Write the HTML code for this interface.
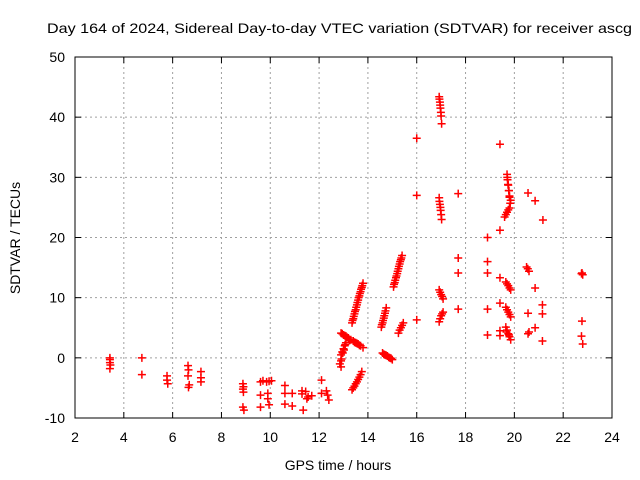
<!DOCTYPE html>
<html><head><meta charset="utf-8"><style>
html,body{margin:0;padding:0;background:#fff;}
svg{display:block;font-family:"Liberation Sans",Arial,sans-serif;}
</style></head><body>
<svg id="chart" width="640" height="480" viewBox="0 0 640 480">
<rect width="640" height="480" fill="#fff"/>
<text x="47" y="33" font-size="14" textLength="585" lengthAdjust="spacingAndGlyphs">Day 164 of 2024, Sidereal Day-to-day VTEC variation (SDTVAR) for receiver ascg</text>
<g id="grid"></g><g id="ticks"></g><g id="marks"></g>
<rect x="75" y="57" width="537" height="361" fill="none" stroke="#000" stroke-width="1"/>
<text x="338" y="470" font-size="14" text-anchor="middle">GPS time / hours</text>
<text x="20" y="238" font-size="14" text-anchor="middle" transform="rotate(-90 20 238)">SDTVAR / TECUs</text>
</svg>
<script>
const xTicks=[2,4,6,8,10,12,14,16,18,20,22,24];
const yTicks=[-10,0,10,20,30,40,50];
const hours=[3.43,3.43,3.45,3.43,3.43,4.74,4.74,5.77,5.77,5.8,6.63,6.65,6.63,6.68,6.65,7.16,7.16,7.16,
8.88,8.9,8.88,8.9,8.88,8.92,9.6,9.7,9.85,9.95,10.05,9.6,9.6,9.9,9.9,9.95,10.6,10.6,10.6,10.9,10.9,11.3,11.45,11.55,11.7,11.35,11.5,11.3,12.1,12.1,
12.3,12.35,12.4,12.9,12.9,12.85,12.9,12.95,13.0,13.05,13.1,12.92,12.97,13.02,13.07,
12.9,13.0,13.1,13.2,13.3,13.4,13.5,13.6,13.7,13.8,12.95,13.05,13.15,13.25,13.45,13.55,13.65,
13.35,13.4,13.45,13.5,13.55,13.6,13.65,13.7,13.75,13.8,13.37,13.42,13.47,13.52,13.57,13.62,13.67,13.72,13.77,
13.35,13.45,13.55,13.65,13.75,13.4,13.5,13.6,13.7,
14.55,14.6,14.65,14.7,14.75,14.57,14.62,14.67,14.72,14.6,14.7,14.8,14.9,15.0,14.65,14.75,14.85,14.95,
15.05,15.1,15.15,15.2,15.25,15.3,15.35,15.4,15.07,15.12,15.17,15.22,15.27,15.32,15.37,15.25,15.35,15.45,15.3,15.4,
16.0,16.0,16.0,16.92,16.95,16.97,17.0,17.02,16.93,16.96,16.99,16.92,16.95,16.98,17.02,16.93,16.97,17.0,16.92,17.0,17.08,16.96,17.04,16.92,17.0,17.08,16.96,17.04,17.7,17.7,17.7,17.7,
19.41,
19.7,19.72,19.75,19.78,19.8,19.85,
19.71,19.74,19.77,19.8,19.83,
19.6,19.7,19.8,19.65,19.75,
19.41,18.9,18.9,18.9,19.41,
19.65,19.75,19.85,19.7,19.8,
18.9,19.41,19.65,19.75,19.85,19.7,19.8,
18.9,19.41,19.41,19.65,19.75,19.85,19.7,19.8,19.68,19.78,
20.56,20.85,21.17,20.5,20.6,20.55,20.85,21.15,21.15,20.56,20.85,20.56,20.6,21.15,
22.77,22.8,22.75,22.77,22.75,22.8];
const tecu=[-0.3,-0.8,-1.2,-1.8,0,0,-2.8,-3,-3.7,-4.3,-1.3,-2,-3,-4.5,-4.9,-2.3,-3.3,-4,
-4.3,-4.8,-5.2,-5.7,-8.2,-8.7,-4,-3.8,-4,-3.9,-3.8,-6.2,-8.2,-5.9,-6.8,-7.8,-4.6,-5.9,-7.7,-5.9,-8,-6,-5.6,-6.5,-6.3,-8.7,-6.8,-5.5,-3.7,-5.9,
-5.5,-6.2,-7,-1.5,-0.5,-1,0.5,1,1.5,2,2.5,-0.2,0.8,1.3,2.2,
4.1,3.8,3.6,3.3,3,2.8,2.5,2.3,2,1.7,4,3.7,3.4,2.9,2.6,2.4,2.1,
5.8,6.5,7.3,8,8.8,9.6,10.3,11,11.7,12.4,6.2,6.9,7.7,8.4,9.2,10,10.7,11.4,12,
-5.3,-4.7,-4,-3.2,-2.3,-5,-4.3,-3.6,-2.8,
5.1,5.8,6.6,7.4,8.3,5.5,6.2,7,7.8,0.8,0.5,0.3,0,-0.3,0.6,0.4,0.1,-0.1,
11.8,12.5,13.3,14,14.8,15.6,16.3,17,12.2,12.9,13.6,14.4,15.2,16,16.6,4.1,5,5.8,4.6,5.4,
36.5,27,6.3,43.4,42.5,41.5,40.2,38.9,43,42,40.8,26.6,25.5,24.5,23,26,25,23.8,11.3,10.5,9.8,10.9,10.2,6,7,7.6,6.5,7.3,27.3,16.6,14.1,8.1,
35.5,
30.5,29.6,28.7,27.8,26.9,26.2,
30,28.8,27.8,26.7,25.7,
23.4,24.2,24.9,23.8,24.6,
21.2,20,16,14.1,13.3,
12.6,12,11.3,12.3,11.6,
8.1,9.1,8.4,7.6,6.8,8,7.2,
3.8,4.5,3.7,5.1,4,3,4.6,3.5,4.3,3.8,
27.4,26.1,22.9,15.1,14.4,14.8,11.6,8.8,7.3,7.4,5,4,4.3,2.8,
14.1,13.8,14,6.1,3.6,2.3];
const NS='http://www.w3.org/2000/svg';
const X0=75,X1=612,Y0=418,Y1=57;
function xs(t){return X0+(t-2)/22*(X1-X0);}
function ys(v){return Y0-(v+10)/60*(Y0-Y1);}
function mk(tag,attrs,parent){const e=document.createElementNS(NS,tag);for(const k in attrs)e.setAttribute(k,attrs[k]);parent.appendChild(e);return e;}
const grid=document.getElementById('grid'),ticks=document.getElementById('ticks'),marks=document.getElementById('marks');
xTicks.forEach(t=>{const x=xs(t);
 if(t>2&&t<24){const g=mk('line',{x1:x,x2:x,y1:Y1,y2:Y0,stroke:'#a0a0a0','stroke-dasharray':'2,3'},grid);
 
 }
 mk('line',{x1:x,x2:x,y1:Y0,y2:Y0-6,stroke:'#000'},ticks);
 mk('line',{x1:x,x2:x,y1:Y1,y2:Y1+6,stroke:'#000'},ticks);
 const l=mk('text',{x:x,y:Y0+24,'font-size':14,'text-anchor':'middle'},ticks);l.textContent=t;
 
 
});
yTicks.forEach(v=>{const y=ys(v);
 if(v>-10&&v<50){const g=mk('line',{x1:X0,x2:X1,y1:y,y2:y,stroke:'#a0a0a0','stroke-dasharray':'2,3'},grid);
 
 }
 mk('line',{x1:X0,x2:X0+6,y1:y,y2:y,stroke:'#000'},ticks);
 mk('line',{x1:X1,x2:X1-6,y1:y,y2:y,stroke:'#000'},ticks);
 const l=mk('text',{x:X0-10,y:y+5,'font-size':14,'text-anchor':'end'},ticks);l.textContent=v;
 
 
});
hours.forEach((t,i)=>{const x=xs(t),y=ys(tecu[i]);
 const p=mk('path',{d:`M${x-4},${y}H${x+4}M${x},${y-4}V${y+4}`,stroke:'#f00','stroke-width':1.5,fill:'none'},marks);
 
 
});
</script>
</body></html>
